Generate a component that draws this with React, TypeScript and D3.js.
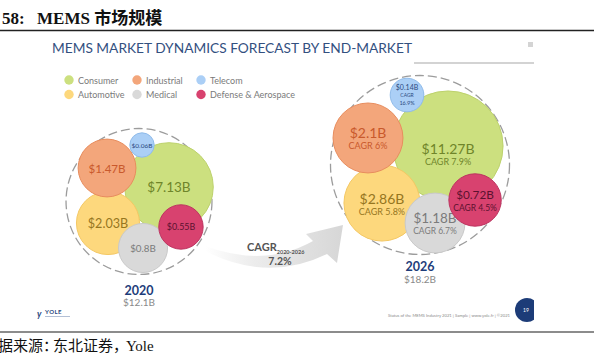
import React from "react";
import * as d3 from "d3";

// ---------- data ----------
const segments = ["Consumer", "Automotive", "Industrial", "Medical", "Telecom", "Defense & Aerospace"];
const values2020 = [7.13, 2.03, 1.47, 0.8, 0.06, 0.55];
const values2026 = [11.27, 2.86, 2.1, 1.18, 0.14, 0.72];
const cagr2026 = ["7.9%", "5.8%", "6%", "6.7%", "16.9%", "4.5%"];
const years = ["2020", "2026"];
const totals = [12.1, 18.2];
const overallCagr = "7.2%";
const cagrPeriod = "2020-2026";

// ---------- styles / layout ----------
const fills = ["#cce07f", "#fdd87d", "#f3a67b", "#d9d9d9", "#abcff6", "#d8426f"];
const strokes = ["#bdd26c", "#f4c864", "#e88d5e", "#c9c9c9", "#8fbbea", "#bd3460"];
const textColors = ["#6f852a", "#96761f", "#c9592c", "#7b7b7b", "#2c4a80", "#5c1230"];
const drawOrder = [0, 1, 2, 3, 5, 4];
// relative bubble offsets inside each cluster (units of cluster radius)
const layout2020 = [[0.411, -0.199], [-0.425, 0.295], [-0.438, -0.459], [0.055, 0.637], [0.041, -0.774], [0.575, 0.349]];
const layout2026 = [[0.313, -0.212], [-0.425, 0.425], [-0.581, -0.302], [0.168, 0.648], [-0.145, -0.782], [0.615, 0.391]];

const W = 594;
const H = 359;
const SANS = "Lato, 'Open Sans', sans-serif";

const outerScale = d3.scaleSqrt().domain([0, 18.2]).range([0, 89.5]);
const innerScale = d3.scalePow().exponent(0.27).domain([0, 1]).range([0, 0.7]);

type ClusterProps = {
  cx: number; cy: number; values: number[]; layout: number[][]; total: number;
  year: string; cagrs?: string[]; yearGap: number; consumerShift: number;
};

function Cluster({ cx, cy, values, layout, total, year, cagrs, yearGap, consumerShift }: ClusterProps) {
  const R = outerScale(total);
  return (
    <g>
      <circle cx={cx} cy={cy} r={R} fill="none" stroke="#9c9c9c" strokeWidth={1.3} strokeDasharray="9 4" />
      {drawOrder.map((i) => {
        const share = values[i] / total;
        const r = R * innerScale(share);
        const x = cx + layout[i][0] * R;
        const y = cy + layout[i][1] * R;
        const label = `$${values[i]}B`;
        const col = textColors[i];
        let texts: React.ReactNode;
        if (!cagrs) {
          const fs = Math.min(13.5, Math.max(6.5, r * 0.4));
          texts = (
            <text x={x} y={y} textAnchor="middle" dominantBaseline="central" fontSize={fs} fill={col} fontFamily={SANS}>{label}</text>
          );
        } else if (r < 21) {
          texts = (
            <g fill={col} fontFamily={SANS} textAnchor="middle">
              <text x={x} y={y - 8} dominantBaseline="central" fontSize={7}>{label}</text>
              <text x={x} y={y} dominantBaseline="central" fontSize={5}>CAGR</text>
              <text x={x} y={y + 8} dominantBaseline="central" fontSize={5.5}>{cagrs[i]}</text>
            </g>
          );
        } else {
          const fs = Math.min(14, r * 0.45);
          const shift = i === 0 ? consumerShift * R : 0;
          texts = (
            <g fill={col} fontFamily={SANS} textAnchor="middle">
              <text x={x} y={y - 5 + shift} dominantBaseline="central" fontSize={fs}>{label}</text>
              <text x={x} y={y + 8 + shift} dominantBaseline="central" fontSize={r > 30 ? 9 : 8.5}>{`CAGR ${cagrs[i]}`}</text>
            </g>
          );
        }
        return (
          <g key={segments[i]}>
            <circle cx={x} cy={y} r={r} fill={fills[i]} stroke={strokes[i]} strokeWidth={1} />
            {texts}
          </g>
        );
      })}
      <text x={cx} y={cy + R + yearGap} textAnchor="middle" dominantBaseline="central" fontSize={12.5} fontWeight={700} fill="#1e3d7a" fontFamily={SANS}>{year}</text>
      <text x={cx} y={cy + R + yearGap + 12} textAnchor="middle" dominantBaseline="central" fontSize={10} fill="#8a8a8a" fontFamily={SANS}>{`$${total}B`}</text>
    </g>
  );
}

export default function App() {
  const legendCols = [69, 137, 201];
  const legendRows = [80, 94.5];
  return (
    <svg width={W} height={H} style={{ position: "absolute", left: 0, top: 0, background: "#fff" }}>
      <defs>
        <linearGradient id="arrowGrad" x1="205" y1="0" x2="345" y2="0" gradientUnits="userSpaceOnUse">
          <stop offset="0" stopColor="#ffffff" />
          <stop offset="0.35" stopColor="#ececec" />
          <stop offset="1" stopColor="#d6d6d6" />
        </linearGradient>
        <clipPath id="slideClip">
          <rect x={0} y={0} width={534} height={H} />
        </clipPath>
      </defs>
      <rect x={0} y={0} width={W} height={H} fill="#fff" />

      {/* report header */}
      <text x={2} y={24} fontSize={17} fontWeight={700} fontFamily="'Liberation Serif', 'Noto Sans CJK SC', serif" fill="#111">
        58:
        <tspan x={37}>MEMS </tspan>
        <tspan fontFamily="'Noto Sans CJK SC', sans-serif">市场规模</tspan>
      </text>
      <line x1={0} x2={W} y1={30.5} y2={30.5} stroke="#222" strokeWidth={1.5} />

      {/* slide title */}
      <text x={52} y={53} fontSize={14} fontFamily={SANS} fill="#33507f" textLength={360} lengthAdjust="spacingAndGlyphs">
        MEMS MARKET DYNAMICS FORECAST BY END-MARKET
      </text>
      <line x1={414} x2={534} y1={63} y2={63} stroke="#c4c4c4" strokeWidth={1.5} />
      <rect x={528} y={42} width={5} height={5} fill="#d4d4d4" />

      {/* legend */}
      {segments.map((s, i) => {
        const cx = legendCols[Math.floor(i / 2)];
        const cy = legendRows[i % 2];
        return (
          <g key={s}>
            <circle cx={cx} cy={cy} r={4.7} fill={fills[i]} />
            <text x={cx + 9} y={cy} dominantBaseline="central" fontSize={9} fill="#7a7a7a" fontFamily={SANS}>{s}</text>
          </g>
        );
      })}

      {/* arrow */}
      <path
        d="M205,246 Q265,268 313,241 L306,234 L343,225 L337,263 L327,254 Q268,283 205,251 Z"
        fill="url(#arrowGrad)"
      />
      <text x={247} y={251} fontSize={11} fontWeight={700} fill="#555" fontFamily={SANS}>
        CAGR<tspan fontSize={5.5} dy={2.5}>{cagrPeriod}</tspan>
      </text>
      <text x={280} y={265} textAnchor="middle" fontSize={10.5} fontWeight={700} fill="#555" fontFamily={SANS}>{overallCagr}</text>

      <Cluster cx={139} cy={201.5} values={values2020} layout={layout2020} total={totals[0]} year={years[0]} yearGap={16} consumerShift={0} />
      <Cluster cx={420} cy={165} values={values2026} layout={layout2026} total={totals[1]} year={years[1]} cagrs={cagr2026} yearGap={12} consumerShift={0.08} />

      {/* slide footer */}
      <g fontFamily={SANS}>
        <text x={37} y={317} fontSize={9} fontStyle="italic" fontWeight={700} fill="#2c4a80">y</text>
        <text x={45} y={314} fontSize={6} fontWeight={700} fill="#2c4a80" letterSpacing={0.5}>YOLE</text>
        <line x1={45} x2={70} y1={316.5} y2={316.5} stroke="#9fb0cc" strokeWidth={0.8} />
        <text x={388} y={316.5} fontSize={4} fill="#8a8a8a" textLength={122} lengthAdjust="spacingAndGlyphs">
          Status of the MEMS Industry 2021 | Sample | www.yole.fr | ©2021
        </text>
        <g clipPath="url(#slideClip)">
          <circle cx={527} cy={310} r={12} fill="#1d3c78" />
          <text x={526} y={312} fontSize={5} fill="#fff" textAnchor="middle">19</text>
        </g>
      </g>

      <line x1={0} x2={W} y1={332} y2={332} stroke="#666" strokeWidth={1.6} />
      <g fontSize={15} fill="#111" fontFamily="'Noto Sans CJK SC', serif">
        <text x={-17} y={351}>数据来源：</text>
        <text x={53} y={351}>东北证券，</text>
        <text x={126} y={351} fontFamily="'Liberation Serif', serif">Yole</text>
      </g>
    </svg>
  );
}
